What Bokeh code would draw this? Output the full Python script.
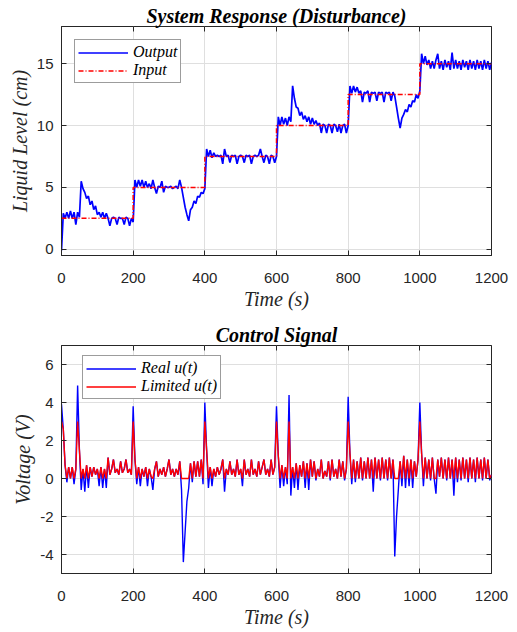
from bokeh.plotting import figure
from bokeh.layouts import column
from bokeh.models import (Range1d, LinearAxis, FixedTicker, Legend, LegendItem,
                          CustomLabelingPolicy)
from bokeh.embed import file_html
from bokeh.resources import INLINE

# ---------------- data ----------------
TIME_STEP = 5  # s between samples
time_s = list(range(0, 1201, TIME_STEP))

# reference input (step set-points)
input_t = [0, 200, 400, 600, 800, 1000, 1200]
input_level = [2.5, 5.0, 7.5, 10.0, 12.5, 15.0, 15.0]

# measured liquid level (cm), sampled every 5 s
output_level = [
    -0.1, 2.9, 2.5, 3.0, 2.5, 3.1, 2.5, 3.0, 2.0, 3.0, 2.6, 5.5, 4.9, 4.6, 4.1, 4.3, 3.6, 3.9, 3.2, 3.5,
    2.8, 3.0, 2.6, 3.0, 2.5, 2.9, 2.5, 1.9, 2.5, 2.6, 2.5, 2.0, 2.6, 2.5, 2.5, 2.0, 2.6, 2.5, 1.9, 2.5,
    2.2, 5.6, 5.0, 5.6, 5.1, 5.6, 5.0, 5.5, 5.0, 5.3, 4.9, 5.6, 5.0, 4.5, 5.1, 5.0, 5.5, 4.6, 5.1, 5.0,
    5.0, 5.1, 4.9, 5.0, 5.1, 4.9, 5.6, 5.0, 4.2, 3.4, 2.8, 2.3, 3.2, 3.4, 3.9, 3.7, 4.3, 4.2, 4.6, 4.5,
    4.9, 8.1, 7.5, 8.0, 7.4, 7.8, 7.5, 7.6, 7.5, 7.6, 6.9, 8.1, 7.5, 7.6, 7.0, 7.6, 7.5, 7.6, 6.9, 7.5,
    7.6, 7.5, 7.0, 7.6, 7.5, 7.6, 6.9, 7.5, 7.6, 7.5, 7.6, 8.1, 7.5, 7.0, 7.6, 7.5, 6.9, 7.6, 7.5, 7.0,
    7.5, 10.7, 10.0, 10.7, 10.1, 10.6, 10.0, 10.7, 10.3, 13.2, 12.2, 11.5, 11.4, 10.8, 11.1, 10.5, 10.8, 10.3, 10.7, 10.1,
    10.6, 10.1, 10.4, 10.0, 10.2, 9.4, 10.1, 10.0, 9.4, 10.1, 10.0, 9.4, 10.1, 10.0, 9.5, 10.1, 9.4, 10.0, 10.1, 9.4,
    10.0, 13.2, 12.6, 13.2, 12.7, 13.1, 12.6, 12.8, 11.9, 12.7, 12.6, 12.8, 11.9, 12.7, 12.6, 12.7, 12.0, 12.7, 12.6, 12.7,
    11.9, 12.7, 12.6, 12.7, 12.0, 12.7, 12.4, 11.5, 10.6, 9.8, 10.6, 10.9, 11.3, 11.1, 11.7, 11.5, 12.0, 11.9, 12.5, 12.2,
    12.8, 15.8, 15.0, 15.6, 14.9, 15.3, 14.6, 15.2, 14.6, 15.3, 15.8, 14.6, 15.2, 14.5, 15.3, 14.7, 15.2, 14.5, 15.9, 14.6,
    15.3, 14.6, 15.2, 14.5, 15.3, 14.7, 15.2, 14.5, 15.3, 14.6, 15.2, 14.5, 15.3, 14.6, 15.2, 14.5, 15.3, 14.6, 15.2, 14.5, 15.1,
]

# controller output before saturation (V)
real_u = [
    3.9, 2.6, 0.7, -0.2, 0.6, 0.0, 0.6, -0.3, 0.5, 4.9, 1.5, -0.6, 0.5, -0.7, 0.7, -0.5, 0.6, 0.1, 0.6, 0.2,
    0.5, -0.4, 0.6, -0.5, 0.5, -0.5, 1.1, 0.2, 0.5, 1.0, 0.3, 0.5, 0.2, 0.9, 0.3, 0.5, 1.0, 0.3, 0.5, 0.2,
    3.8, 1.0, -0.3, 0.6, -0.4, 0.5, 0.1, 0.6, -0.4, 0.5, 0.1, -0.6, 0.5, 0.9, 0.1, 0.5, 0.2, 0.6, 0.1, 0.5,
    1.0, 0.2, 0.5, 0.1, 0.5, 0.2, 0.9, -0.6, -4.4, -2.8, -1.2, -0.5, 0.8, -0.2, 0.9, 0.1, 0.9, 0.1, 1.0, -0.3,
    4.0, 1.5, -0.5, 0.6, -0.4, 0.5, 0.1, 0.6, 0.2, 0.5, 1.0, -0.7, 0.5, 0.2, 0.9, 0.2, 0.5, 0.1, 1.0, 0.2,
    0.5, -0.4, 1.0, 0.2, 0.5, 0.1, 1.0, 0.2, 0.5, 0.1, 0.9, 0.2, 0.6, 1.0, 0.2, 0.5, 0.1, 1.0, 0.2, 0.6,
    3.8, 1.2, -0.5, 0.7, -0.4, 0.6, -0.3, 4.4, -0.9, 0.6, -0.5, 0.8, -0.6, 0.7, 0.1, 0.9, -0.5, 0.8, -0.6, 1.0,
    0.1, 0.9, -0.1, 0.5, 0.1, 1.0, 0.0, 0.4, 0.1, 0.9, -0.1, 1.0, 0.1, 0.5, 0.0, 1.0, 0.1, 0.9, -0.1, 0.5,
    4.3, 1.3, -0.3, 1.0, -0.2, 0.9, 0.0, 1.1, -0.1, 0.9, 0.0, 1.1, 0.0, 1.0, -0.7, 1.1, 0.0, 1.0, -0.1, 1.1,
    0.0, 1.0, -0.1, 1.1, 0.0, 1.0, -4.1, -2.0, -0.6, 0.9, -0.4, 1.2, -0.5, 1.0, -0.4, 1.0, -0.5, 0.9, 0.1, 1.0,
    4.0, 1.3, -0.4, 1.1, 0.0, 1.0, -0.1, 1.1, 0.0, -0.8, 1.0, 0.1, 1.1, 0.0, 1.0, -0.1, 1.1, 0.0, 1.0, -0.9,
    1.1, -0.2, 1.0, -0.1, 1.1, 0.0, 1.0, -0.2, 1.1, 0.0, 1.0, -0.2, 1.1, 0.0, 1.0, -0.1, 1.1, 0.0, 1.0, -0.1, 0.2,
]

# controller output after the 0..3 V limiter (V)
limited_u = [
    3.0, 2.6, 0.7, 0.0, 0.6, 0.0, 0.6, 0.0, 0.5, 3.0, 1.5, 0.0, 0.5, 0.0, 0.7, 0.0, 0.6, 0.1, 0.6, 0.2,
    0.5, 0.0, 0.6, 0.0, 0.5, 0.0, 1.1, 0.2, 0.5, 1.0, 0.3, 0.5, 0.2, 0.9, 0.3, 0.5, 1.0, 0.3, 0.5, 0.2,
    3.0, 1.0, 0.0, 0.6, 0.0, 0.5, 0.1, 0.6, 0.0, 0.5, 0.1, 0.0, 0.5, 0.9, 0.1, 0.5, 0.2, 0.6, 0.1, 0.5,
    1.0, 0.2, 0.5, 0.1, 0.5, 0.2, 0.9, 0.0, 0.0, 0.0, 0.0, 0.0, 0.8, 0.0, 0.9, 0.1, 0.9, 0.1, 1.0, 0.0,
    3.0, 1.5, 0.0, 0.6, 0.0, 0.5, 0.1, 0.6, 0.2, 0.5, 1.0, 0.0, 0.5, 0.2, 0.9, 0.2, 0.5, 0.1, 1.0, 0.2,
    0.5, 0.0, 1.0, 0.2, 0.5, 0.1, 1.0, 0.2, 0.5, 0.1, 0.9, 0.2, 0.6, 1.0, 0.2, 0.5, 0.1, 1.0, 0.2, 0.6,
    3.0, 1.2, 0.0, 0.7, 0.0, 0.6, 0.0, 3.0, 0.0, 0.6, 0.0, 0.8, 0.0, 0.7, 0.1, 0.9, 0.0, 0.8, 0.0, 1.0,
    0.1, 0.9, 0.0, 0.5, 0.1, 1.0, 0.0, 0.4, 0.1, 0.9, 0.0, 1.0, 0.1, 0.5, 0.0, 1.0, 0.1, 0.9, 0.0, 0.5,
    3.0, 1.3, 0.0, 1.0, 0.0, 0.9, 0.0, 1.1, 0.0, 0.9, 0.0, 1.1, 0.0, 1.0, 0.0, 1.1, 0.0, 1.0, 0.0, 1.1,
    0.0, 1.0, 0.0, 1.1, 0.0, 1.0, 0.0, 0.0, 0.0, 0.9, 0.0, 1.2, 0.0, 1.0, 0.0, 1.0, 0.0, 0.9, 0.1, 1.0,
    3.0, 1.3, 0.0, 1.1, 0.0, 1.0, 0.0, 1.1, 0.0, 0.0, 1.0, 0.1, 1.1, 0.0, 1.0, 0.0, 1.1, 0.0, 1.0, 0.0,
    1.1, 0.0, 1.0, 0.0, 1.1, 0.0, 1.0, 0.0, 1.1, 0.0, 1.0, 0.0, 1.1, 0.0, 1.0, 0.0, 1.1, 0.0, 1.0, 0.0, 0.2,
]

x_ticks = [0, 200, 400, 600, 800, 1000, 1200]
y1_ticks = [0, 5, 10, 15]
y2_ticks = [-4, -2, 0, 2, 4, 6]
y2_tick_text = {-4: "-4", -2: "-2"}  # plain hyphen minus as in the reference

# ---------------- styling ----------------
AX = "#262626"
GRID = "#DFDFDF"
SANS = "Liberation Sans"
SERIF = "Liberation Serif"
W = 510
NO_LABELS = CustomLabelingPolicy(code="for (const i of indices) { if (i < 0) { yield i } }")


def make_fig(height, top, ylo, yhi, title, title_standoff):
    p = figure(width=W, height=height, x_range=Range1d(0, 1200), y_range=Range1d(ylo, yhi),
               output_backend="svg", toolbar_location=None,
               min_border_left=61, min_border_right=19, min_border_top=top, min_border_bottom=56)
    p.background_fill_color = "white"
    p.border_fill_color = "white"
    p.outline_line_color = AX
    p.outline_line_width = 1
    p.title.text = title
    p.title.align = "center"
    p.title.text_font = SERIF
    p.title.text_font_style = "bold italic"
    p.title.text_font_size = "20px"
    p.title.text_color = "black"
    p.title.standoff = title_standoff
    return p


def mirror_axis(ticks):
    return LinearAxis(ticker=FixedTicker(ticks=ticks), major_label_text_font_size="0px",
                      major_label_policy=NO_LABELS,
                      major_label_standoff=0, major_tick_in=5, major_tick_out=0,
                      minor_tick_in=0, minor_tick_out=0, axis_line_color=None,
                      major_tick_line_color=AX)


def style_axes(p, yticks, ylabel):
    p.xaxis.ticker = FixedTicker(ticks=x_ticks)
    p.yaxis.ticker = FixedTicker(ticks=yticks)
    p.xgrid.ticker = FixedTicker(ticks=x_ticks)
    p.ygrid.ticker = FixedTicker(ticks=yticks)
    p.xaxis.axis_label = "Time (s)"
    p.yaxis.axis_label = ylabel
    for ax in list(p.xaxis) + list(p.yaxis):
        ax.axis_line_color = AX
        ax.major_tick_line_color = AX
        ax.major_tick_in = 5
        ax.major_tick_out = 0
        ax.minor_tick_in = 0
        ax.minor_tick_out = 0
        ax.major_label_text_font = SANS
        ax.major_label_text_font_size = "15px"
        ax.major_label_text_color = AX
        ax.axis_label_text_font = SERIF
        ax.axis_label_text_font_style = "italic"
        ax.axis_label_text_font_size = "20px"
        ax.axis_label_text_color = AX
    p.xaxis.major_label_standoff = 17
    p.xaxis.axis_label_standoff = 2
    p.yaxis.major_label_standoff = 8
    p.yaxis.axis_label_standoff = 3
    p.grid.grid_line_color = GRID
    p.grid.grid_line_width = 1
    # mirrored ticks on the top and right sides of the box
    p.add_layout(mirror_axis(x_ticks), "above")
    p.add_layout(mirror_axis(yticks), "right")


def make_legend(items, loc):
    return Legend(items=items, location=loc, margin=0, padding=3, spacing=0,
                  label_text_font=SERIF, label_text_font_style="italic",
                  label_text_font_size="16px", label_text_color="black",
                  label_height=17, glyph_height=17, glyph_width=50, label_standoff=5,
                  border_line_color="#3A3A3A", border_line_width=1,
                  background_fill_color="white", background_fill_alpha=1)


# ---------------- top: system response ----------------
p1 = make_fig(312, 26, -0.5, 18, "System Response (Disturbance)", 0)
style_axes(p1, y1_ticks, "Liquid Level (cm)")
r_out = p1.line(time_s, output_level, line_color="#0000FF", line_width=1.7)
r_in = p1.step(input_t, input_level, mode="after", line_color="#FF0000", line_width=1.5,
               line_dash="5 2 1 2")
p1.add_layout(make_legend([LegendItem(label="Output", renderers=[r_out]),
                           LegendItem(label="Input", renderers=[r_in])], (13, 172)))

# ---------------- bottom: control signal ----------------
p2 = make_fig(318, 33, -5, 7, "Control Signal", 0)
style_axes(p2, y2_ticks, "Voltage (V)")
p2.yaxis[0].major_label_overrides = y2_tick_text
r_real = p2.line(time_s, real_u, line_color="#0000FF", line_width=1.4)
r_lim = p2.line(time_s, limited_u, line_color="#FF0000", line_width=1.4)
p2.add_layout(make_legend([LegendItem(label="Real u(t)", renderers=[r_real]),
                           LegendItem(label="Limited u(t)", renderers=[r_lim])], (21, 174)))

layout = column(p1, p2, spacing=0)
open("out.html", "w").write(file_html(layout, INLINE))
